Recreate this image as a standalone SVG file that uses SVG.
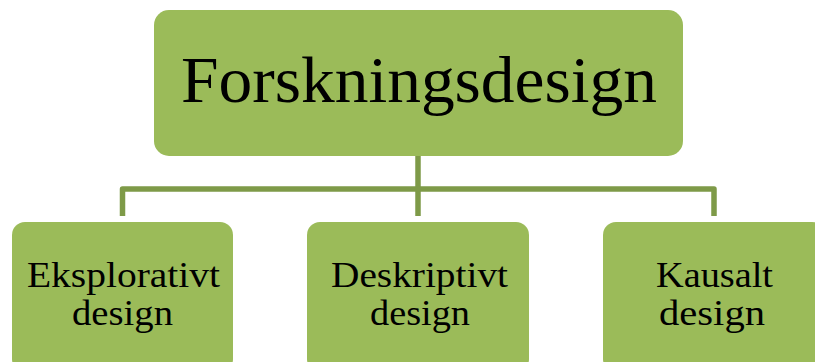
<svg xmlns="http://www.w3.org/2000/svg" width="815" height="362" viewBox="0 0 815 362">
<style>
.node{fill:#9BBB59}
.conn{fill:none;stroke:#7E9A48;stroke-width:5.5;stroke-linejoin:round}
text{font-family:"Liberation Serif","DejaVu Serif",serif;fill:#000;text-anchor:middle}
.big{font-size:65px}
.small{font-size:36.5px}
</style>
<rect width="815" height="362" fill="#fff"/>
<g id="connectors">
<path class="conn" d="M418,156 V216"/>
<path class="conn" d="M122.5,216 V189 H714 V216"/>
</g>
<g id="forskningsdesign">
<rect class="node" x="154" y="10" width="529" height="146" rx="15"/>
<text class="big" x="419" y="102" textLength="476" lengthAdjust="spacingAndGlyphs">Forskningsdesign</text>
</g>
<g id="eksplorativt">
<rect class="node" x="12" y="222" width="221" height="150" rx="13"/>
<text class="small" x="123.5" y="287" textLength="193" lengthAdjust="spacingAndGlyphs">Eksplorativt</text>
<text class="small" x="122.5" y="325" textLength="101" lengthAdjust="spacingAndGlyphs">design</text>
</g>
<g id="deskriptivt">
<rect class="node" x="307" y="222" width="222" height="150" rx="13"/>
<text class="small" x="419.5" y="287" textLength="177" lengthAdjust="spacingAndGlyphs">Deskriptivt</text>
<text class="small" x="420" y="325" textLength="100" lengthAdjust="spacingAndGlyphs">design</text>
</g>
<g id="kausalt">
<rect class="node" x="603" y="222" width="222" height="150" rx="13"/>
<text class="small" x="714.5" y="287" textLength="117" lengthAdjust="spacingAndGlyphs">Kausalt</text>
<text class="small" x="712" y="325" textLength="106" lengthAdjust="spacingAndGlyphs">design</text>
</g>
</svg>
